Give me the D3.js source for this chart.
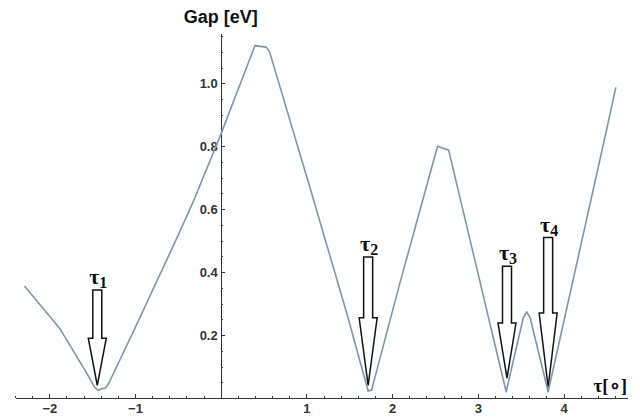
<!DOCTYPE html>
<html lang="en">
<head>
<meta charset="utf-8">
<title>Gap vs tau</title>
<script src="https://d3js.org/d3.v7.min.js"></script>
<style>
	body { margin: 0; background: #fff; }
	.axis path, .axis line { stroke: #333; shape-rendering: crispEdges; }
	.axis text { font: bold 13px "Liberation Sans", Arial, sans-serif; fill: #333; }
	.gap-line { fill: none; stroke: #7f94ae; stroke-width: 1.6px; stroke-linejoin: round; }
	.arrow { fill: #fff; stroke: #111; stroke-width: 1.5px; stroke-linejoin: miter; }
	.tau-label { font-family: "Liberation Serif", "Times New Roman", serif; font-weight: bold; fill: #111; }
</style>
</head>
<body>
<script>

// curve
var tau = [-2.29, -1.88, -1.57, -1.47, -1.43, -1.38, -1.34, -1.30, -1.0, -0.5, -0.3, 0, 0.40, 0.53, 0.57, 1.04, 1.47, 1.72, 1.76, 2.09, 2.53, 2.66, 3.33, 3.53, 3.57, 3.61, 3.82, 4.50, 4.61];
var gap = [0.356, 0.222, 0.082, 0.034, 0.025, 0.030, 0.032, 0.050, 0.222, 0.515, 0.637, 0.837, 1.12, 1.115, 1.10, 0.67, 0.27, 0.022, 0.025, 0.365, 0.80, 0.787, 0.02, 0.255, 0.274, 0.255, 0.02, 0.85, 0.987];

// arrows marking the minima
var arrowNames = ["1", "2", "3", "4"];
var arrowTau = [-1.44, 1.72, 3.34, 3.82];
var arrowTop = [0.343, 0.448, 0.419, 0.51];
var arrowNeck = [0.19, 0.255, 0.238, 0.27];
var arrowTip = [0.04, 0.04, 0.063, 0.035];

var xTicks = [-2, -1, 1, 2, 3, 4];
var yTicks = [0.2, 0.4, 0.6, 0.8, 1.0];

var width = 640, height = 419;

var svg = d3.select("body")
	.append("svg")
	.attr("width", width)
	.attr("height", height);

var x = d3.scaleLinear().domain([-2.4, 4.74]).range([15, 627]);
var y = d3.scaleLinear().domain([0, 1.16]).range([398, 33]);

// minor ticks first
svg.append("g")
	.attr("class", "axis")
	.attr("transform", "translate(0," + y(0) + ")")
	.call(d3.axisBottom(x).tickValues(d3.range(-2.4, 4.7, 0.2)).tickSize(-2).tickSizeOuter(0).tickFormat(""));

svg.append("g")
	.attr("class", "axis")
	.attr("transform", "translate(" + x(0) + ",0)")
	.call(d3.axisLeft(y).tickValues(d3.range(0.05, 1.16, 0.05)).tickSize(-2).tickSizeOuter(0).tickFormat(""));

// major ticks
svg.append("g")
	.attr("class", "axis")
	.attr("transform", "translate(0," + y(0) + ")")
	.call(d3.axisBottom(x).tickValues(xTicks).tickSize(-4).tickSizeOuter(0).tickPadding(6).tickFormat(d3.format("d")));

svg.append("g")
	.attr("class", "axis")
	.attr("transform", "translate(" + x(0) + ",0)")
	.call(d3.axisLeft(y).tickValues(yTicks).tickSize(-4).tickSizeOuter(0).tickPadding(3).tickFormat(d3.format(".1f")));

// axis titles
svg.append("text")
	.attr("x", x(0))
	.attr("y", 23)
	.attr("text-anchor", "middle")
	.style("font", "bold 18px 'Liberation Sans', Arial, sans-serif")
	.style("fill", "#111")
	.text("Gap [eV]");

svg.append("text")
	.attr("x", 627)
	.attr("y", 392)
	.attr("text-anchor", "end")
	.style("font", "bold 19px 'Liberation Serif', 'Times New Roman', serif")
	.style("fill", "#111")
	.text("τ[∘]");

// arrows
var arrows = svg.append("g");
arrowTau.forEach(function(t, i){
	var cx = x(t), sw = 4.5, hw = 9;
	var pts = [
		[cx - sw, y(arrowTop[i])], [cx + sw, y(arrowTop[i])],
		[cx + sw, y(arrowNeck[i])], [cx + hw, y(arrowNeck[i])],
		[cx, y(arrowTip[i])],
		[cx - hw, y(arrowNeck[i])], [cx - sw, y(arrowNeck[i])]
	];
	arrows.append("polygon")
		.attr("class", "arrow")
		.attr("points", pts.map(function(p){ return p.join(","); }).join(" "));

	var lab = arrows.append("text")
		.attr("class", "tau-label")
		.attr("x", cx + 1)
		.attr("y", y(arrowTop[i]) - 6)
		.attr("text-anchor", "middle");
	lab.append("tspan").style("font-size", "22px").text("τ");
	lab.append("tspan").style("font-size", "16px").attr("dy", 4).text(arrowNames[i]);
});

// the gap curve
var line = d3.line()
	.x(function(d, i){ return x(tau[i]); })
	.y(function(d){ return y(d); });

svg.append("path")
	.datum(gap)
	.attr("class", "gap-line")
	.attr("d", line);

</script>
</body>
</html>
